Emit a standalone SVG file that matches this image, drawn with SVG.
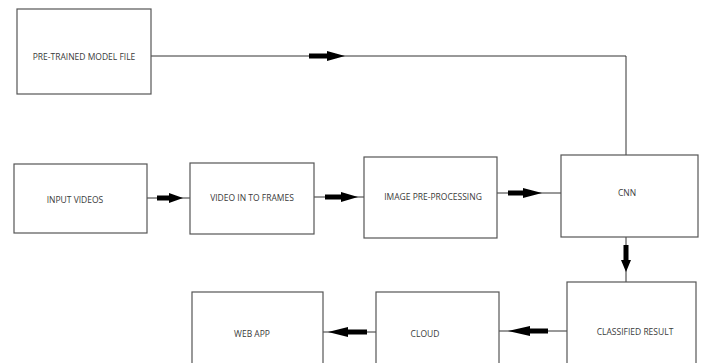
<svg xmlns="http://www.w3.org/2000/svg" width="702" height="363" viewBox="0 0 702 363">
<style>
.box{fill:#fff;stroke:#555;stroke-width:1.2}
.lbl{font-family:"Open Sans","Liberation Sans",sans-serif;font-size:8.5px;fill:#3a3a3a;text-anchor:middle;dominant-baseline:central}
.ln{fill:none;stroke:#333;stroke-width:1}
.ah{fill:#000;stroke:none}
</style>
<rect width="702" height="363" fill="#fff"/>
<g id="connectors">
<polyline class="ln" points="151,56 626,56 626,155"/>
<polygon class="ah" points="309,53.5 327,53.5 327,51 345,56 327,61 327,58.5 309,58.5"/>
<line class="ln" x1="147" y1="198" x2="190" y2="198"/>
<polygon class="ah" points="157,195.5 169,195.5 169,193 183,198 169,203 169,200.5 157,200.5"/>
<line class="ln" x1="314" y1="197" x2="364" y2="197"/>
<polygon class="ah" points="325,194.5 341,194.5 341,192 358,197 341,202 341,199.5 325,199.5"/>
<line class="ln" x1="497" y1="193" x2="561" y2="193"/>
<polygon class="ah" points="508,190.5 523,190.5 523,188 542,193 523,198 523,195.5 508,195.5"/>
<line class="ln" x1="626" y1="237" x2="626" y2="282"/>
<polygon class="ah" points="623.5,245 628.5,245 628.5,260 631,260 626,272 621,260 623.5,260"/>
<line class="ln" x1="567" y1="331" x2="499" y2="331"/>
<polygon class="ah" points="548,328.5 530,328.5 530,326 508,331 530,336 530,333.5 548,333.5"/>
<line class="ln" x1="376" y1="332" x2="323" y2="332"/>
<polygon class="ah" points="367,329.5 348,329.5 348,327 328,332 348,337 348,334.5 367,334.5"/>
</g>
<g id="n-pretrained"><rect class="box" x="17" y="9" width="134" height="85"/><text class="lbl" x="84" y="56">PRE-TRAINED MODEL FILE</text></g>
<g id="n-input"><rect class="box" x="14" y="164" width="133" height="69"/><text class="lbl" x="75" y="199">INPUT VIDEOS</text></g>
<g id="n-frames"><rect class="box" x="190" y="163" width="124" height="71"/><text class="lbl" x="252" y="197">VIDEO IN TO FRAMES</text></g>
<g id="n-preproc"><rect class="box" x="364" y="157" width="133" height="81"/><text class="lbl" x="433" y="196">IMAGE PRE-PROCESSING</text></g>
<g id="n-cnn"><rect class="box" x="561" y="155" width="137" height="82"/><text class="lbl" x="627" y="192">CNN</text></g>
<g id="n-classified"><rect class="box" x="567" y="282" width="129" height="90"/><text class="lbl" x="635" y="331">CLASSIFIED RESULT</text></g>
<g id="n-cloud"><rect class="box" x="376" y="292" width="123" height="80"/><text class="lbl" x="425" y="333">CLOUD</text></g>
<g id="n-webapp"><rect class="box" x="192" y="292" width="131" height="80"/><text class="lbl" x="252" y="333">WEB APP</text></g>
</svg>
